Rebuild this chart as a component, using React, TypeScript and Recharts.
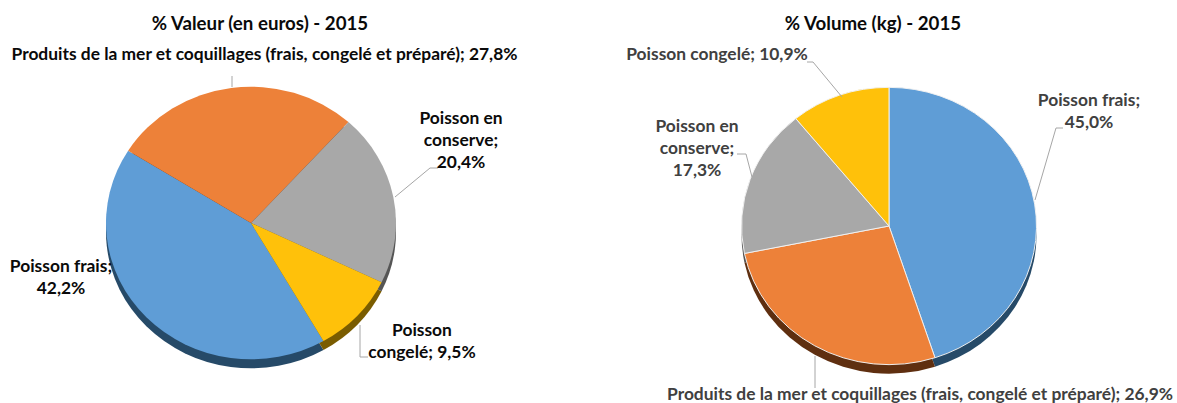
import { Pie, PieChart, Sector } from "recharts";

const valeurNames = [
  "Poisson frais",
  "Produits de la mer et coquillages (frais, congelé et préparé)",
  "Poisson en conserve",
  "Poisson congelé",
];
const valeurValues = [42.2, 27.8, 20.4, 9.5];
const volumeNames = [
  "Poisson frais",
  "Produits de la mer et coquillages (frais, congelé et préparé)",
  "Poisson en conserve",
  "Poisson congelé",
];
const volumeValues = [45.0, 26.9, 17.3, 10.9];

const faceColors = ["#5f9dd6", "#ed8139", "#a8a8a8", "#ffc10a"];
const sideColors = ["#264a68", "#5f2f10", "#555555", "#7a5c00"];

const FONT = "Lato, 'Open Sans', sans-serif";
const CHART_W = 589;
const CHART_H = 403;

interface Placement {
  lines: string[];
  x: number;
  y: number; // baseline of first line
  leader: string;
}

// label text and leader lines sit where the original author dragged them
const valeurPlacement: Placement[] = [
  { lines: ["Poisson frais;", "42,2%"], x: 61, y: 272, leader: "" },
  {
    lines: ["Produits de la mer et coquillages (frais, congelé et préparé); 27,8%"],
    x: 264.5,
    y: 60,
    leader: "232,76 232,87",
  },
  {
    lines: ["Poisson en", "conserve;", "20,4%"],
    x: 461,
    y: 124,
    leader: "395,197 430,168 438,168",
  },
  {
    lines: ["Poisson", "congelé; 9,5%"],
    x: 422,
    y: 336,
    leader: "360,325 360,357 368,357",
  },
];
const volumePlacement: Placement[] = [
  {
    lines: ["Poisson frais;", "45,0%"],
    x: 500,
    y: 106,
    leader: "446,200 467,128 474,128",
  },
  {
    lines: ["Produits de la mer et coquillages (frais, congelé et préparé); 26,9%"],
    x: 331,
    y: 400,
    leader: "226,356 226,388",
  },
  {
    lines: ["Poisson en", "conserve;", "17,3%"],
    x: 108,
    y: 132,
    leader: "163,177 157,154 148,154",
  },
  {
    lines: ["Poisson congelé; 10,9%"],
    x: 128,
    y: 60,
    leader: "253,97 224,62 218,62",
  },
];

function squashed(k: number) {
  return (props: any) => {
    const { cx, cy } = props;
    return (
      <g transform={`translate(0 ${cy}) scale(1 ${k}) translate(0 ${-cy})`}>
        <Sector {...props} cx={cx} cy={cy} />
      </g>
    );
  };
}

function labelRenderer(placement: Placement[], color: string, fontSize: number) {
  return (props: any) => {
    const p = placement[props.index];
    return (
      <g>
        {p.leader && <polyline points={p.leader} fill="none" stroke="#a6a6a6" strokeWidth={1} />}
        <text x={p.x} y={p.y} textAnchor="middle" fill={color} fontFamily={FONT} fontWeight={700} fontSize={fontSize}>
          {p.lines.map((line, i) => (
            <tspan key={line} x={p.x} dy={i === 0 ? 0 : 22}>
              {line}
            </tspan>
          ))}
        </text>
      </g>
    );
  };
}

interface DiscProps {
  names: string[];
  values: number[];
  title: string;
  titleX: number;
  cx: number;
  cy: number;
  radius: number;
  squash: number;
  startAngle: number;
  edge: string;
  placement: Placement[];
  labelColor: string;
  left: number;
}

function Disc(d: DiscProps) {
  const face = d.names.map((name, i) => ({ name, value: d.values[i], fill: faceColors[i] }));
  const side = d.names.map((name, i) => ({ name, value: d.values[i], fill: sideColors[i] }));
  return (
    <div style={{ position: "absolute", left: d.left, top: 0 }}>
      <PieChart width={CHART_W} height={CHART_H} margin={{ top: 0, right: 0, bottom: 0, left: 0 }}>
        <text x={d.titleX} y={30} textAnchor="middle" fill="#0a0a0a" fontFamily={FONT} fontWeight={700} fontSize={18.7}>
          {d.title}
        </text>
        <Pie
          data={side}
          dataKey="value"
          nameKey="name"
          cx={d.cx}
          cy={d.cy + 9}
          outerRadius={d.radius}
          startAngle={d.startAngle}
          endAngle={d.startAngle - 360}
          stroke="none"
          shape={squashed(d.squash)}
          isAnimationActive={false}
        />
        <Pie
          data={face}
          dataKey="value"
          nameKey="name"
          cx={d.cx}
          cy={d.cy}
          outerRadius={d.radius}
          startAngle={d.startAngle}
          endAngle={d.startAngle - 360}
          stroke={d.edge}
          strokeWidth={1}
          shape={squashed(d.squash)}
          label={labelRenderer(d.placement, d.labelColor, 17.4)}
          labelLine={false}
          isAnimationActive={false}
        />
      </PieChart>
    </div>
  );
}

export default function App() {
  return (
    <div style={{ position: "absolute", left: 0, top: 0, width: 1177, height: 403, background: "#fff", overflow: "hidden" }}>
      <Disc
        names={valeurNames}
        values={valeurValues}
        title="% Valeur (en euros) - 2015"
        titleX={260}
        cx={251}
        cy={223}
        radius={145}
        squash={0.94}
        startAngle={-60}
        edge="none"
        placement={valeurPlacement}
        labelColor="#0a0a0a"
        left={0}
      />
      <Disc
        names={volumeNames}
        values={volumeValues}
        title="% Volume (kg) - 2015"
        titleX={284}
        cx={300}
        cy={226}
        radius={147.5}
        squash={0.94}
        startAngle={90}
        edge="#f2f2f2"
        placement={volumePlacement}
        labelColor="#404040"
        left={589}
      />
    </div>
  );
}
